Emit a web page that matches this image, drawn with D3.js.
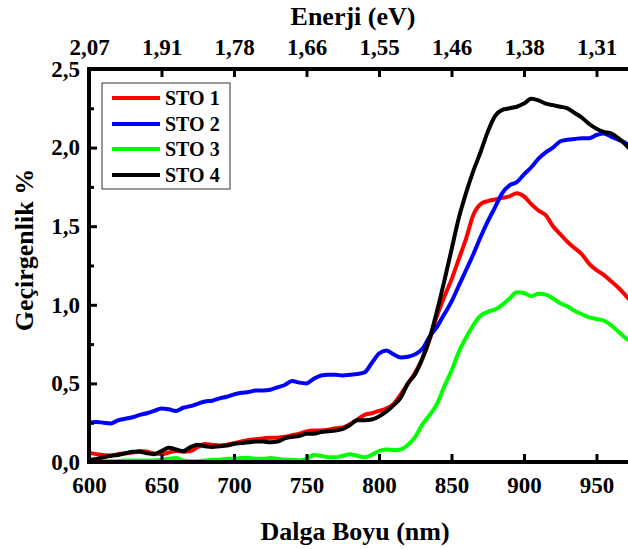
<!DOCTYPE html>
<html>
<head>
<meta charset="utf-8">
<script src="https://cdn.jsdelivr.net/npm/d3@7"></script>
<style>
  html, body { margin: 0; padding: 0; background: #fff; overflow: hidden; }
  svg { display: block; }
  text { font-family: "Liberation Serif", "Times New Roman", serif; font-weight: bold; fill: #000; }
</style>
</head>
<body>
<svg id="chart" width="628" height="549"></svg>
<script>
// ---------- data ----------
const wavelengths = [600,605,610,615,620,625,630,635,640,645,650,655,660,665,670,675,680,685,690,695,
  700,705,710,715,720,725,730,735,740,745,750,755,760,765,770,775,780,785,790,795,
  800,805,810,815,820,825,830,835,840,845,850,855,860,865,870,875,880,885,890,895,
  900,905,910,915,920,925,930,935,940,945,950,955,960,965,970,975];

const sto1 = [0.06,0.05,0.045,0.04,0.05,0.055,0.06,0.07,0.065,0.055,0.05,0.06,0.07,0.065,0.07,0.095,0.115,0.11,0.105,0.11,
  0.12,0.13,0.14,0.145,0.15,0.155,0.155,0.16,0.17,0.18,0.195,0.20,0.20,0.205,0.215,0.22,0.24,0.27,0.30,0.31,
  0.325,0.34,0.37,0.43,0.50,0.57,0.66,0.78,0.93,1.05,1.16,1.29,1.42,1.57,1.64,1.66,1.67,1.68,1.69,1.71,
  1.69,1.64,1.60,1.57,1.50,1.45,1.40,1.36,1.32,1.26,1.22,1.19,1.15,1.11,1.06,1.01];

const sto2 = [0.25,0.255,0.25,0.245,0.265,0.275,0.285,0.30,0.31,0.325,0.34,0.335,0.325,0.345,0.355,0.37,0.385,0.39,0.405,0.415,
  0.43,0.44,0.445,0.455,0.455,0.46,0.475,0.49,0.515,0.505,0.50,0.53,0.55,0.555,0.555,0.55,0.555,0.56,0.57,0.63,
  0.69,0.71,0.685,0.665,0.67,0.685,0.72,0.80,0.86,0.94,1.02,1.12,1.22,1.32,1.43,1.53,1.62,1.71,1.76,1.78,
  1.83,1.875,1.93,1.97,2.00,2.04,2.05,2.055,2.06,2.06,2.08,2.09,2.07,2.05,2.03,2.00];

const sto3 = [0.0,0.0,0.005,0.005,0.005,0.01,0.01,0.01,0.01,0.01,0.015,0.02,0.025,0.01,0.005,0.005,0.01,0.015,0.015,0.02,
  0.02,0.025,0.025,0.02,0.02,0.025,0.02,0.015,0.015,0.01,0.02,0.045,0.04,0.03,0.03,0.04,0.05,0.04,0.03,0.045,
  0.07,0.08,0.075,0.08,0.11,0.16,0.24,0.30,0.37,0.48,0.58,0.70,0.79,0.87,0.93,0.955,0.97,1.00,1.04,1.08,
  1.075,1.055,1.07,1.065,1.04,1.01,0.99,0.96,0.94,0.92,0.91,0.90,0.87,0.83,0.79,0.76];

const sto4 = [0.015,0.02,0.03,0.04,0.045,0.055,0.065,0.065,0.055,0.05,0.07,0.09,0.08,0.07,0.095,0.11,0.10,0.095,0.10,0.105,
  0.115,0.12,0.125,0.13,0.13,0.125,0.13,0.15,0.16,0.165,0.18,0.18,0.19,0.195,0.20,0.21,0.235,0.265,0.265,0.27,
  0.29,0.32,0.36,0.41,0.50,0.56,0.66,0.79,0.96,1.15,1.35,1.55,1.71,1.85,1.97,2.10,2.20,2.24,2.25,2.26,
  2.28,2.31,2.30,2.28,2.27,2.26,2.25,2.22,2.19,2.15,2.12,2.10,2.09,2.06,2.02,1.97];

const seriesNames = ["STO 1", "STO 2", "STO 3", "STO 4"];
const seriesColors = ["#ff0000", "#0000ff", "#00ff00", "#000000"];
const seriesValues = [sto1, sto2, sto3, sto4];

const xTicks = [600, 650, 700, 750, 800, 850, 900, 950];
const topTickLabels = ["2,07", "1,91", "1,78", "1,66", "1,55", "1,46", "1,38", "1,31"];
const yTicks = [0, 0.5, 1.0, 1.5, 2.0, 2.5];
const yTickLabels = ["0,0", "0,5", "1,0", "1,5", "2,0", "2,5"];
const yMinorTicks = [0.25, 0.75, 1.25, 1.75, 2.25];

// ---------- layout ----------
const svg = d3.select("#chart");
const plotLeft = 89, plotRight = 669, plotTop = 69, plotBottom = 462;

const x = d3.scaleLinear().domain([600, 1000]).range([plotLeft, plotRight]);
const y = d3.scaleLinear().domain([0, 2.5]).range([plotBottom, plotTop]);

// ---------- lines ----------
const line = d3.line()
  .x((d, i) => x(wavelengths[i]))
  .y(d => y(d))
  .curve(d3.curveMonotoneX);

svg.append("g")
  .selectAll("path")
  .data(seriesValues)
  .join("path")
  .attr("d", d => line(d))
  .attr("fill", "none")
  .attr("stroke", (d, i) => seriesColors[i])
  .attr("stroke-width", 4)
  .attr("stroke-linejoin", "round")
  .attr("stroke-linecap", "round");

// ---------- axes ----------
function styleAxis(g, fontSize) {
  g.select(".domain").remove();
  g.selectAll(".tick line").attr("stroke", "#000").attr("stroke-width", 3);
  g.selectAll(".tick text")
    .style("font-family", '"Liberation Serif", "Times New Roman", serif')
    .style("font-weight", "bold")
    .style("font-size", fontSize + "px")
    .attr("fill", "#000");
}

const bottomAxis = d3.axisBottom(x).tickValues(xTicks).tickFormat(d3.format("d"))
  .tickSizeInner(-8).tickSizeOuter(0).tickPadding(15);
svg.append("g").attr("transform", `translate(0,${plotBottom})`).call(bottomAxis).call(g => styleAxis(g, 23));

const topAxis = d3.axisTop(x).tickValues(xTicks).tickFormat((d, i) => topTickLabels[i])
  .tickSizeInner(-8).tickSizeOuter(0).tickPadding(14);
svg.append("g").attr("transform", `translate(0,${plotTop})`).call(topAxis).call(g => styleAxis(g, 23));

const leftAxis = d3.axisLeft(y).tickValues(yTicks).tickFormat((d, i) => yTickLabels[i])
  .tickSizeInner(-8).tickSizeOuter(0).tickPadding(9);
svg.append("g").attr("transform", `translate(${plotLeft},0)`).call(leftAxis).call(g => styleAxis(g, 23));

const leftMinor = d3.axisLeft(y).tickValues(yMinorTicks).tickFormat("")
  .tickSizeInner(-5).tickSizeOuter(0);
svg.append("g").attr("transform", `translate(${plotLeft},0)`).call(leftMinor).call(g => styleAxis(g, 23));

// frame
const frame = svg.append("g").attr("stroke", "#000").attr("stroke-width", 4).attr("stroke-linecap", "square");
frame.append("line").attr("x1", plotLeft).attr("x2", plotRight).attr("y1", plotBottom).attr("y2", plotBottom);
frame.append("line").attr("x1", plotLeft).attr("x2", plotRight).attr("y1", plotTop).attr("y2", plotTop);
frame.append("line").attr("x1", plotLeft).attr("x2", plotLeft).attr("y1", plotTop).attr("y2", plotBottom);
frame.append("line").attr("x1", plotRight).attr("x2", plotRight).attr("y1", plotTop).attr("y2", plotBottom);

// ---------- titles ----------
svg.append("text")
  .attr("x", 353).attr("y", 25)
  .attr("text-anchor", "middle")
  .style("font-size", "26px")
  .text("Enerji (eV)");

svg.append("text")
  .attr("x", 355).attr("y", 540)
  .attr("text-anchor", "middle")
  .style("font-size", "26px")
  .text("Dalga Boyu (nm)");

svg.append("text")
  .attr("transform", "translate(33,250) rotate(-90)")
  .attr("text-anchor", "middle")
  .style("font-size", "26px")
  .text("Geçirgenlik %");

// ---------- legend ----------
const legend = svg.append("g");
legend.append("rect")
  .attr("x", 102).attr("y", 83).attr("width", 128).attr("height", 106)
  .attr("fill", "#fff").attr("stroke", "#333").attr("stroke-width", 1);

const rowY = [98, 124, 149, 175];
const items = legend.selectAll("g.item")
  .data(seriesNames)
  .join("g")
  .attr("class", "item")
  .attr("transform", (d, i) => `translate(0,${rowY[i]})`);
items.append("line")
  .attr("x1", 112).attr("x2", 160).attr("y1", 0).attr("y2", 0)
  .attr("stroke", (d, i) => seriesColors[i]).attr("stroke-width", 4);
items.append("text")
  .attr("x", 165).attr("y", 0).attr("dy", "0.35em")
  .style("font-size", "20px")
  .text(d => d);
</script>
</body>
</html>
